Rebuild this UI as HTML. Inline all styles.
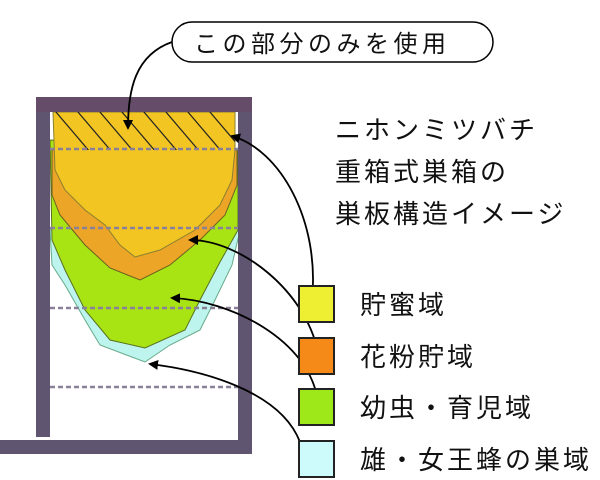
<!DOCTYPE html><html><head><style>body{margin:0;background:#fff}svg{display:block}text{font-family:"Liberation Sans","Noto Sans CJK JP",sans-serif;fill:#111}</style></head><body>
<svg width="600" height="480" viewBox="0 0 600 480">
<defs><marker id="a" markerWidth="10" markerHeight="10" refX="8" refY="5" orient="auto" markerUnits="userSpaceOnUse"><path d="M0,0L10,5L0,10z" fill="#000"/></marker>
<clipPath id="c"><polygon points="53,112 235,112 235,150 53,150"/></clipPath></defs>
<polygon points="50,230 240,230 232,265 215,300 200,330 170,345 145,362 100,345 85,320 65,285 52,265" fill="#bdf5ee" stroke="#6a8" stroke-width="1"/>
<polygon points="50,140 238,150 238,230 220,262 200,300 185,330 145,348 110,340 85,310 65,270 52,240" fill="#a8e414" stroke="#5a7020" stroke-width="1"/>
<polygon points="52,150 237,150 237,185 225,215 200,240 170,265 140,280 110,268 85,245 60,215 52,195" fill="#eca526" stroke="#6a6020" stroke-width="1"/>
<polygon points="53,112 235,112 235,150 232,180 220,205 195,230 160,250 135,257 120,245 105,225 85,210 65,190 55,170" fill="#f2c523" stroke="#8a8030" stroke-width="1"/>
<g clip-path="url(#c)" stroke="#222" stroke-width="1.2">
<line x1="50" y1="105" x2="90" y2="152"/><line x1="72" y1="105" x2="112" y2="152"/><line x1="94" y1="105" x2="134" y2="152"/><line x1="116" y1="105" x2="156" y2="152"/><line x1="138" y1="105" x2="178" y2="152"/><line x1="160" y1="105" x2="200" y2="152"/><line x1="182" y1="105" x2="222" y2="152"/><line x1="204" y1="105" x2="244" y2="152"/>
</g>
<g stroke="#8a8098" stroke-width="2.5" stroke-dasharray="5,3">
<line x1="50" y1="149" x2="238" y2="149"/><line x1="50" y1="228" x2="238" y2="228"/><line x1="50" y1="308" x2="238" y2="308"/><line x1="50" y1="387" x2="238" y2="387"/></g>
<g fill="#5f5570"><rect x="36" y="97" width="216" height="15" fill="#654d6a"/><rect x="36" y="112" width="14" height="325"/><rect x="238" y="112" width="14" height="333"/><rect x="0" y="440" width="252" height="14"/></g>
<rect x="172" y="22" width="321" height="40" rx="20" fill="#fff" stroke="#000" stroke-width="1.5"/>
<text x="194" y="52" font-size="24" letter-spacing="4.5">この部分のみを使用</text>
<g fill="none" stroke="#000" stroke-width="1.8" marker-end="url(#a)">
<path d="M172,42 C135,55 128,90 128,128"/>
<path d="M312,300 C320,220 280,150 232,136"/>
<path d="M318,352 C305,290 240,240 190,240"/>
<path d="M318,402 C310,340 230,300 172,298"/>
<path d="M300,442 C280,390 200,370 150,364"/>
</g>
<g font-size="26" letter-spacing="3">
<text x="335" y="139">ニホンミツバチ</text>
<text x="335" y="181">重箱式巣箱の</text>
<text x="335" y="223">巣板構造イメージ</text></g>
<g stroke="#222" stroke-width="2"><rect x="299" y="286" width="35" height="36" fill="#eeee33"/><rect x="299" y="338" width="35" height="36" fill="#f58a18"/><rect x="299" y="389" width="35" height="36" fill="#9ee81a"/><rect x="299" y="441" width="35" height="36" fill="#cdfbfb"/></g>
<g font-size="26" letter-spacing="3"><text x="360" y="314">貯蜜域</text><text x="360" y="366">花粉貯域</text><text x="360" y="417">幼虫・育児域</text><text x="360" y="469">雄・女王蜂の巣域</text></g>
</svg></body></html>
